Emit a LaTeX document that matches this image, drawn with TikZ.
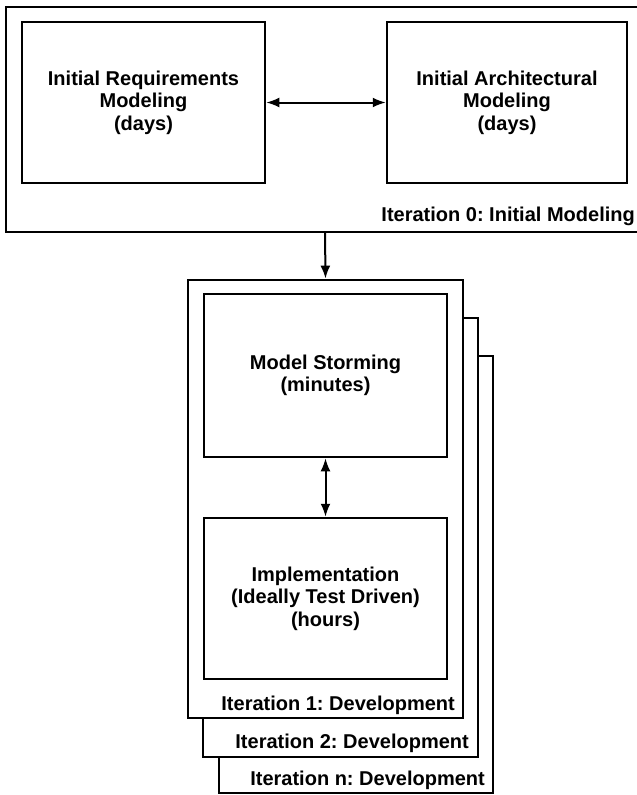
\documentclass[tikz,border=0pt]{standalone}
\usepackage{fontspec}
\setmainfont{Liberation Sans}
\usetikzlibrary{arrows.meta}
\begin{document}
\frenchspacing
\begin{tikzpicture}[x=1pt,y=-1pt,
  frame/.style={draw=black,line width=2.8pt,fill=white},
  activity/.style={draw=black,line width=2.5pt,fill=white,
    font=\bfseries\fontsize{20}{22.5}\selectfont,align=center},
  tag/.style={font=\bfseries\fontsize{20}{22}\selectfont,inner sep=0pt,anchor=east},
  link/.style={line width=2pt,{Latex[length=13pt,width=10pt]}-{Latex[length=13pt,width=10pt]}},
  flow/.style={line width=2pt,-{Latex[length=13pt,width=10pt]}}]
\useasboundingbox (0,0) rectangle (637,795);
\clip (0,0) rectangle (637,795);

% Iteration 0 frame (runs past the right border)
\draw[frame] (6,7) rectangle (660,232);
\node[activity,minimum width=243pt,minimum height=161pt] (req) at (143.5,102.5)
  {Initial Requirements\\Modeling\\(days)};
\node[activity,minimum width=240pt,minimum height=161pt] (arch) at (507,102.5)
  {Initial Architectural\\Modeling\\(days)};
\draw[link] (req.east) -- (arch.west);
\node[tag] (it0) at (635,216) {Iteration 0: Initial Modeling};
\coordinate (it0bot) at (325,232);

% Stack of development iterations, back to front
\node[frame,minimum width=274pt,minimum height=437pt,inner sep=0pt] (itn) at (356,574.5) {};
\node[tag] (itnl) at (485,780) {Iteration n: Development};
\node[frame,minimum width=275pt,minimum height=439pt,inner sep=0pt] (it2) at (340.5,537.5) {};
\node[tag] (it2l) at (469,743) {Iteration 2: Development};
\node[frame,minimum width=275pt,minimum height=438pt,inner sep=0pt] (it1) at (325.5,499) {};
\node[tag] (it1l) at (455,705) {Iteration 1: Development};

\node[activity,minimum width=243pt,minimum height=163pt] (storm) at (325.5,375.5)
  {Model Storming\\(minutes)};
\node[activity,minimum width=243pt,minimum height=161pt] (impl) at (325.5,598.5)
  {Implementation\\(Ideally Test Driven)\\(hours)};
\draw[link] (storm.south) -- (impl.north);

\draw[flow] (it0bot) -- (it1.north);
\end{tikzpicture}
\end{document}
